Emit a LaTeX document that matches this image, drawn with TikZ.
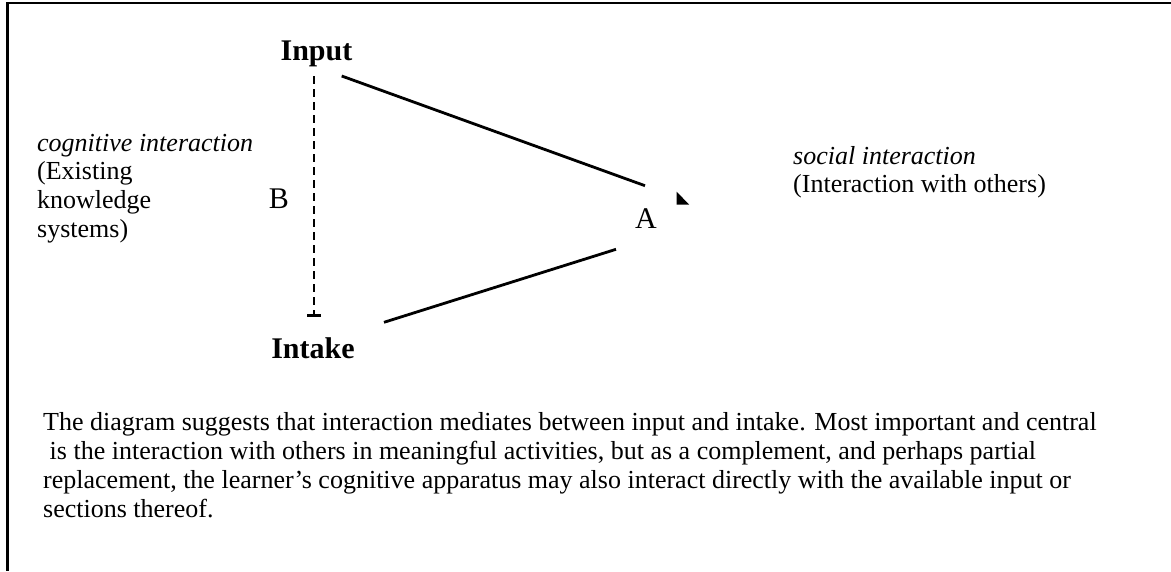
\documentclass[tikz,border=0pt]{standalone}
\usepackage{fontspec}
\setmainfont{Liberation Serif}
\usetikzlibrary{arrows.meta}
\begin{document}
\begin{tikzpicture}[x=1pt,y=-1pt,
  txt/.style={inner sep=0pt, anchor=base west, font=\fontsize{26}{28.8}\selectfont},
  itxt/.style={txt, font=\fontsize{26}{28.8}\selectfont\itshape},
  bigbold/.style={inner sep=0pt, anchor=base, font=\fontsize{30}{30}\selectfont\bfseries},
  letter/.style={inner sep=0pt, anchor=base, font=\fontsize{30}{30}\selectfont},
  conn/.style={line width=2.8pt},
  frame/.style={line width=2.5pt}]
\useasboundingbox (0,0) rectangle (1171,571);
% frame
\draw[frame] (1171,2.8) -- (7.5,2.8) -- (7.5,571);
% main labels
\node[bigbold] (input) at (316.5,60.5) {Input};
\node[bigbold] (intake) at (313,358.3) {Intake};
\node[letter] (A) at (646,228.3) {A};
\node[letter] (B) at (279,208.3) {B};
% left text
\node[itxt] (cog) at (37,151) {cognitive interaction};
\node[txt] (ex1) at (37,179.8) {(Existing};
\node[txt] (ex2) at (37,208.6) {knowledge};
\node[txt] (ex3) at (37,237.4) {systems)};
% right text
\node[itxt] (soc) at (793,164) {social interaction};
\node[txt] (soc2) at (793,192.8) {(Interaction with others)};
% connector end points
\coordinate (inS) at (341.7,76);
\coordinate (aN) at (645,185.7);
\coordinate (itS) at (384,322.3);
\coordinate (aS) at (616,249.3);
\coordinate (dTop) at (314,76);
\coordinate (dBot) at (314,317);
% connectors
\draw[conn] (inS) -- (aN);
\draw[conn] (itS) -- (aS);
\draw[conn, dash pattern=on 7.5pt off 5.5pt, -{Bar[width=14pt,line width=3pt]}] (dTop) -- (dBot);
% stray arrowhead
\fill (676.7,191.7) -- (676.7,204.5) -- (689,204.5) -- cycle;
% caption
\node[txt] (c1) at (43,430.7) {The diagram suggests that interaction mediates between input and intake. Most important and central};
\node[txt] (c2) at (49.5,459.5) {is the interaction with others in meaningful activities, but as a complement, and perhaps partial};
\node[txt] (c3) at (43,488.3) {replacement, the learner’s cognitive apparatus may also interact directly with the available input or};
\node[txt] (c4) at (43,517.1) {sections thereof.};
\end{tikzpicture}
\end{document}
